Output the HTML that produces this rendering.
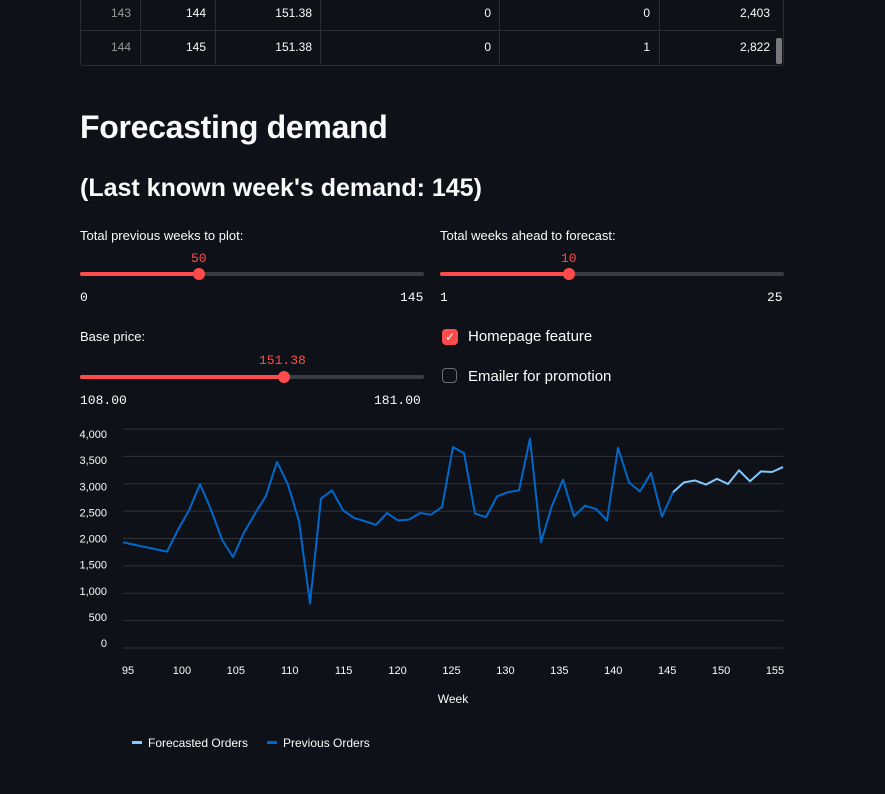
<!DOCTYPE html>
<html><head><meta charset="utf-8"><style>
body{margin:0;background:#0e1117;width:885px;height:794px;overflow:hidden;font-family:"Liberation Sans",sans-serif;color:#fafafa;position:relative}
.abs{position:absolute}
.cell{position:absolute;font-size:12px;text-align:right}
.lbl{font-size:13px;color:#fafafa}
.mono{font-family:"Liberation Mono",monospace;font-size:13px}
.track{position:absolute;height:4px;background:#3a3b44;border-radius:2px}
.fill{position:absolute;height:4px;background:#ff4b4b;border-radius:2px}
.thumb{position:absolute;width:12px;height:12px;border-radius:6px;background:#ff4b4b}
</style></head><body>
<div class="abs" style="left:80px;top:-4px;width:702px;height:69px;border:1px solid #2a2d36;border-radius:4px;border-top:none">
 <div class="abs" style="left:0;top:34px;width:695px;height:1px;background:#2a2d36"></div>
 <div class="abs" style="left:59px;top:0;width:1px;height:69px;background:#2a2d36"></div>
 <div class="abs" style="left:134px;top:0;width:1px;height:69px;background:#2a2d36"></div>
 <div class="abs" style="left:239px;top:0;width:1px;height:69px;background:#2a2d36"></div>
 <div class="abs" style="left:418px;top:0;width:1px;height:69px;background:#2a2d36"></div>
 <div class="abs" style="left:578px;top:0;width:1px;height:69px;background:#2a2d36"></div>
 <div class="abs" style="left:695px;top:42px;width:6px;height:26px;background:#777;border-radius:2px"></div>
 <div class="cell" style="left:0;width:50px;top:10px;color:#999">143</div>
 <div class="cell" style="left:60px;width:65px;top:10px">144</div>
 <div class="cell" style="left:135px;width:96px;top:10px">151.38</div>
 <div class="cell" style="left:240px;width:170px;top:10px">0</div>
 <div class="cell" style="left:419px;width:150px;top:10px">0</div>
 <div class="cell" style="left:579px;width:110px;top:10px">2,403</div>
 <div class="cell" style="left:0;width:50px;top:44px;color:#999">144</div>
 <div class="cell" style="left:60px;width:65px;top:44px">145</div>
 <div class="cell" style="left:135px;width:96px;top:44px">151.38</div>
 <div class="cell" style="left:240px;width:170px;top:44px">0</div>
 <div class="cell" style="left:419px;width:150px;top:44px">1</div>
 <div class="cell" style="left:579px;width:110px;top:44px">2,822</div>
</div>
<div class="abs" style="left:80px;top:109px;font-size:32px;font-weight:bold;letter-spacing:-0.3px">Forecasting demand</div>
<div class="abs" style="left:80px;top:174px;font-size:25px;font-weight:bold">(Last known week's demand: 145)</div>

<div class="abs lbl" style="left:80px;top:228px">Total previous weeks to plot:</div>
<div class="abs mono" style="left:191px;top:251px;color:#ff4b4b">50</div>
<div class="track" style="left:80px;top:272px;width:344px"></div>
<div class="fill" style="left:80px;top:272px;width:120px"></div>
<div class="thumb" style="left:193px;top:268px"></div>
<div class="abs mono" style="left:80px;top:290px">0</div>
<div class="abs mono" style="left:400px;top:290px">145</div>

<div class="abs lbl" style="left:440px;top:228px">Total weeks ahead to forecast:</div>
<div class="abs mono" style="left:561px;top:251px;color:#ff4b4b">10</div>
<div class="track" style="left:440px;top:272px;width:344px"></div>
<div class="fill" style="left:440px;top:272px;width:130px"></div>
<div class="thumb" style="left:563px;top:268px"></div>
<div class="abs mono" style="left:440px;top:290px">1</div>
<div class="abs mono" style="left:767px;top:290px">25</div>

<div class="abs lbl" style="left:80px;top:329px">Base price:</div>
<div class="abs mono" style="left:259px;top:353px;color:#ff4b4b">151.38</div>
<div class="track" style="left:80px;top:375px;width:344px"></div>
<div class="fill" style="left:80px;top:375px;width:205px"></div>
<div class="thumb" style="left:278px;top:371px"></div>
<div class="abs mono" style="left:80px;top:393px">108.00</div>
<div class="abs mono" style="left:374px;top:393px">181.00</div>

<div class="abs" style="left:442px;top:329px;width:16px;height:16px;border-radius:4px;background:#ff4b4b;color:#fff;font-size:12px;text-align:center;line-height:16px">✓</div>
<div class="abs" style="left:468px;top:328px;font-size:15px">Homepage feature</div>
<div class="abs" style="left:442px;top:368px;width:13px;height:13px;border-radius:4px;border:1.5px solid #6b6d75"></div>
<div class="abs" style="left:468px;top:368px;font-size:15px">Emailer for promotion</div>

<svg id="chart" class="abs" style="left:0;top:0" width="885" height="794"></svg>
<script>
const prevWeeks=[95,99,100,101,102,103,104,105,106,107,108,109,110,111,112,113,114,115,116,117,118,119,120,121,122,123,124,125,126,127,128,129,130,131,132,133,134,135,136,137,138,139,140,141,142,143,144,145];
const prevOrders=[1930,1760,2160,2515,2995,2525,1980,1660,2110,2455,2780,3400,2985,2315,810,2730,2880,2515,2375,2315,2250,2465,2330,2345,2465,2435,2575,3670,3560,2455,2390,2770,2845,2880,3825,1930,2600,3075,2405,2600,2540,2330,3655,3025,2860,3195,2400,2845];
const fcWeeks=[145,146,147,148,149,150,151,152,153,154,155];
const fcOrders=[2845,3025,3060,2985,3090,2995,3245,3045,3225,3215,3305];
const yTicks=[0,500,1000,1500,2000,2500,3000,3500,4000];
const xTicks=[95,100,105,110,115,120,125,130,135,140,145,150,155];
const NS="http://www.w3.org/2000/svg";
const svg=document.getElementById('chart');
const x=w=>123+(w-95)*(660/60);
const y=v=>648-v*(219/4000);
const yl=v=>643-v*(209/4000);
function mk(t,a,txt){const e=document.createElementNS(NS,t);for(const k in a)e.setAttribute(k,a[k]);if(txt!==undefined)e.textContent=txt;svg.appendChild(e);return e;}
yTicks.forEach(v=>{
 const g=mk('line',{x1:123,x2:783,y1:y(v),y2:y(v),stroke:'#31333b','stroke-width':1});
 
 
 const t=mk('text',{x:107,y:yl(v)+4,'text-anchor':'end','font-size':11,fill:'#fafafa','font-family':'Liberation Sans, sans-serif'},v.toLocaleString('en-US'));
 
 
});
xTicks.forEach(w=>{
 const t=mk('text',{x:128+(w-95)*(647/60),y:674,'text-anchor':'middle','font-size':11,fill:'#fafafa','font-family':'Liberation Sans, sans-serif'},w);
 
 
});
const xt=mk('text',{x:453,y:703,'text-anchor':'middle','font-size':12,fill:'#fafafa','font-family':'Liberation Sans, sans-serif'},'Week');


const p1=mk('polyline',{points:prevWeeks.map((w,i)=>x(w)+','+y(prevOrders[i])).join(' '),fill:'none',stroke:'#0068c9','stroke-width':2,'stroke-linejoin':'round'});


const p2=mk('polyline',{points:fcWeeks.map((w,i)=>x(w)+','+y(fcOrders[i])).join(' '),fill:'none',stroke:'#83c9ff','stroke-width':2,'stroke-linejoin':'round'});


const l1=mk('rect',{x:132,y:741,width:10,height:3,fill:'#83c9ff'});


const lt1=mk('text',{x:148,y:747,'font-size':12,fill:'#fafafa','font-family':'Liberation Sans, sans-serif'},'Forecasted Orders');


const l2=mk('rect',{x:267,y:741,width:10,height:3,fill:'#0068c9'});


const lt2=mk('text',{x:283,y:747,'font-size':12,fill:'#fafafa','font-family':'Liberation Sans, sans-serif'},'Previous Orders');


</script>
</body></html>
